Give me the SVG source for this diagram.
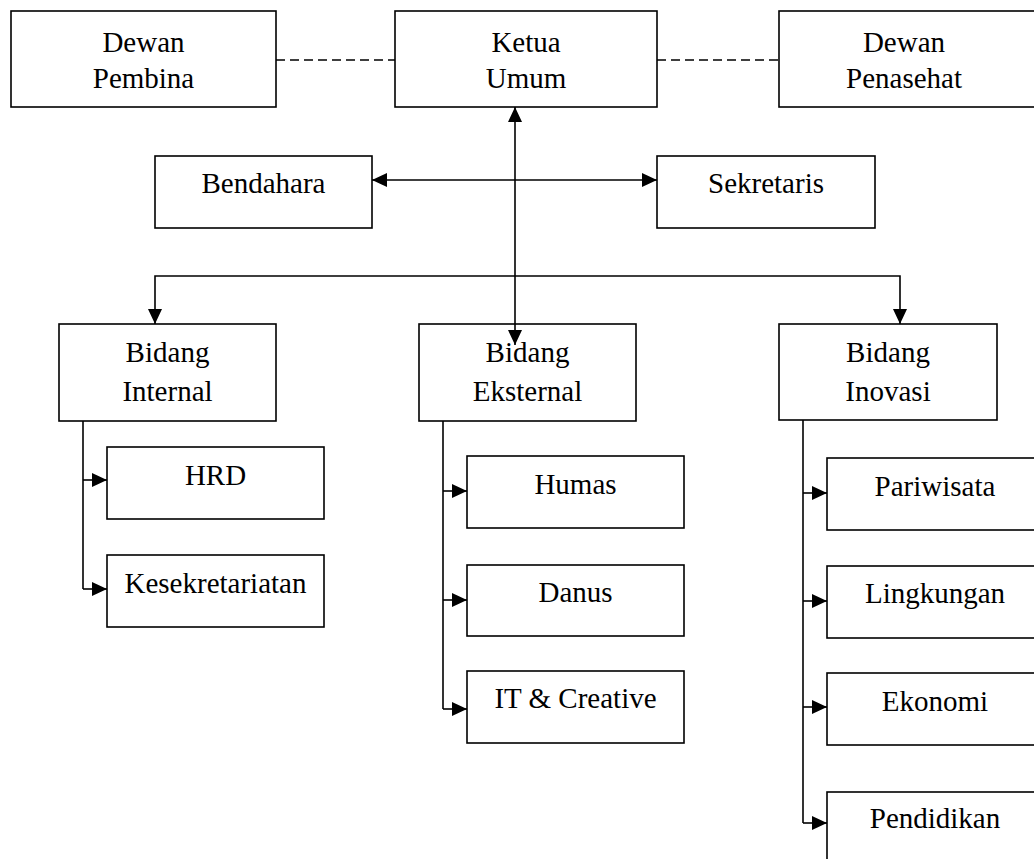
<svg xmlns="http://www.w3.org/2000/svg" width="1034" height="859" viewBox="0 0 1034 859">
<style>
.box{fill:#fff;stroke:#000;stroke-width:1.6}
.t{font-family:"Liberation Serif","Times New Roman",serif;font-size:29px;fill:#000;text-anchor:middle}
.ln{fill:none;stroke:#000;stroke-width:1.6}
.dash{fill:none;stroke:#000;stroke-width:1.6;stroke-dasharray:9,5}
</style>
<defs>
<marker id="ah" markerUnits="userSpaceOnUse" markerWidth="15" markerHeight="14" refX="15" refY="7" orient="auto-start-reverse" viewBox="0 0 15 14">
<path d="M0,0 L15,7 L0,14 z" fill="#000"/>
</marker>
</defs>
<rect width="1034" height="859" fill="#fff"/>
<g id="dewan-pembina"><rect class="box" x="11" y="11" width="265" height="96"/><text class="t" x="143.5" y="52">Dewan</text><text class="t" x="143.5" y="88">Pembina</text></g>
<g id="ketua-umum"><rect class="box" x="395" y="11" width="262" height="96"/><text class="t" x="526" y="52">Ketua</text><text class="t" x="526" y="88">Umum</text></g>
<g id="dewan-penasehat"><rect class="box" x="779" y="11" width="262" height="96"/><text class="t" x="904" y="52">Dewan</text><text class="t" x="904" y="88">Penasehat</text></g>
<g id="bendahara"><rect class="box" x="155" y="156" width="217" height="72"/><text class="t" x="263.5" y="193">Bendahara</text></g>
<g id="sekretaris"><rect class="box" x="657" y="156" width="218" height="72"/><text class="t" x="766" y="193">Sekretaris</text></g>
<g id="bidang-internal"><rect class="box" x="59" y="324" width="217" height="97"/><text class="t" x="167.5" y="362">Bidang</text><text class="t" x="167.5" y="401">Internal</text></g>
<g id="bidang-eksternal"><rect class="box" x="419" y="324" width="217" height="97"/><text class="t" x="527.5" y="362">Bidang</text><text class="t" x="527.5" y="401">Eksternal</text></g>
<g id="bidang-inovasi"><rect class="box" x="779" y="324" width="218" height="96"/><text class="t" x="888" y="362">Bidang</text><text class="t" x="888" y="401">Inovasi</text></g>
<g id="hrd"><rect class="box" x="107" y="447" width="217" height="72"/><text class="t" x="215.5" y="485">HRD</text></g>
<g id="kesekretariatan"><rect class="box" x="107" y="555" width="217" height="72"/><text class="t" x="215.5" y="593">Kesekretariatan</text></g>
<g id="humas"><rect class="box" x="467" y="456" width="217" height="72"/><text class="t" x="575.5" y="494">Humas</text></g>
<g id="danus"><rect class="box" x="467" y="565" width="217" height="71"/><text class="t" x="575.5" y="602">Danus</text></g>
<g id="it-creative"><rect class="box" x="467" y="671" width="217" height="72"/><text class="t" x="575.5" y="708">IT &amp; Creative</text></g>
<g id="pariwisata"><rect class="box" x="827" y="458" width="216" height="72"/><text class="t" x="935" y="496">Pariwisata</text></g>
<g id="lingkungan"><rect class="box" x="827" y="566" width="216" height="72"/><text class="t" x="935" y="603">Lingkungan</text></g>
<g id="ekonomi"><rect class="box" x="827" y="673" width="216" height="72"/><text class="t" x="935" y="711">Ekonomi</text></g>
<g id="pendidikan"><rect class="box" x="827" y="792" width="216" height="80"/><text class="t" x="935" y="828">Pendidikan</text></g>
<g id="connectors">
<line class="dash" x1="276" y1="60" x2="395" y2="60"/>
<line class="dash" x1="657" y1="60" x2="779" y2="60"/>
<line class="ln" x1="515" y1="107" x2="515" y2="345" marker-start="url(#ah)" marker-end="url(#ah)"/>
<line class="ln" x1="372" y1="180" x2="657" y2="180" marker-start="url(#ah)" marker-end="url(#ah)"/>
<polyline class="ln" points="155,324 155,276 900,276 900,324" marker-start="url(#ah)" marker-end="url(#ah)"/>
<line class="ln" x1="83" y1="421" x2="83" y2="589"/>
<line class="ln" x1="83" y1="480" x2="107" y2="480" marker-end="url(#ah)"/>
<line class="ln" x1="83" y1="589" x2="107" y2="589" marker-end="url(#ah)"/>
<line class="ln" x1="443" y1="421" x2="443" y2="709"/>
<line class="ln" x1="443" y1="491" x2="467" y2="491" marker-end="url(#ah)"/>
<line class="ln" x1="443" y1="600" x2="467" y2="600" marker-end="url(#ah)"/>
<line class="ln" x1="443" y1="709" x2="467" y2="709" marker-end="url(#ah)"/>
<line class="ln" x1="803" y1="420" x2="803" y2="823"/>
<line class="ln" x1="803" y1="493" x2="827" y2="493" marker-end="url(#ah)"/>
<line class="ln" x1="803" y1="601" x2="827" y2="601" marker-end="url(#ah)"/>
<line class="ln" x1="803" y1="707" x2="827" y2="707" marker-end="url(#ah)"/>
<line class="ln" x1="803" y1="823" x2="827" y2="823" marker-end="url(#ah)"/>
</g>
</svg>
